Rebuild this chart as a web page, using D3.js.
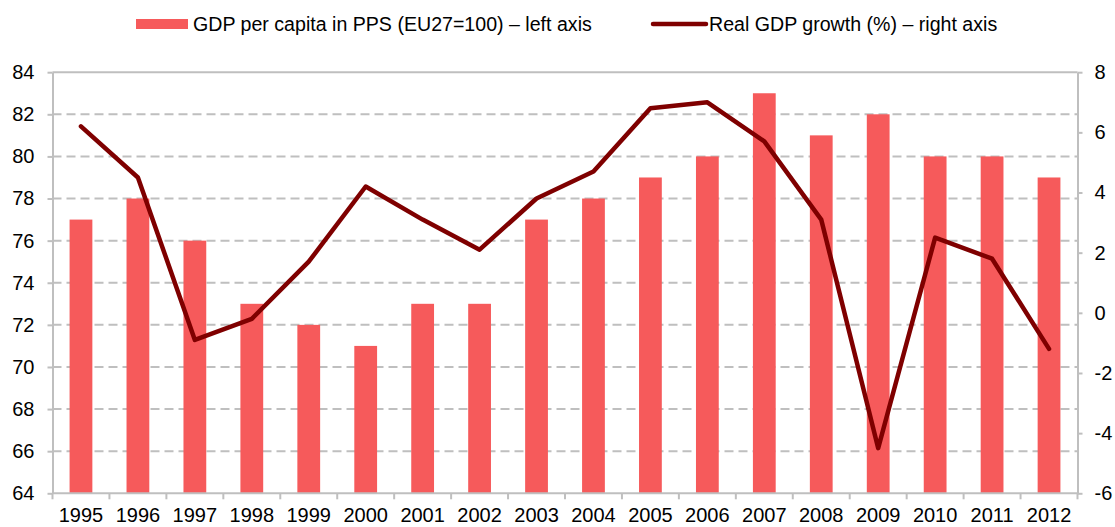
<!DOCTYPE html>
<html>
<head>
<meta charset="utf-8">
<script src="https://cdn.jsdelivr.net/npm/d3@7"></script>
<style>
  html, body { margin: 0; padding: 0; background: #fff; }
  svg { display: block; }
  text { font-family: "Liberation Sans", Arial, sans-serif; fill: #000; }
</style>
</head>
<body>
<svg id="chart" width="1115" height="527"></svg>
<script>
const years = ["1995","1996","1997","1998","1999","2000","2001","2002","2003","2004","2005","2006","2007","2008","2009","2010","2011","2012"];
const gdpPerCapita = [77,78,76,73,72,71,73,73,77,78,79,80,83,81,82,80,80,79];
const realGrowth = [6.2,4.5,-0.9,-0.2,1.7,4.2,3.1,2.1,3.8,4.7,6.8,7.0,5.7,3.1,-4.5,2.5,1.8,-1.2];
const leftTicks = [64,66,68,70,72,74,76,78,80,82,84];
const rightTicks = [-6,-4,-2,0,2,4,6,8];
const legendLabels = ["GDP per capita in PPS (EU27=100) – left axis", "Real GDP growth (%) – right axis"];

const svg = d3.select("#chart");
const x0 = 52.5, x1 = 1077.5, yTop = 72.2, yBot = 493.3;
const gridColor = "#BFBFBF";
const barColor = "#F65A5B";
const lineColor = "#7F0000";

const x = d3.scaleBand().domain(years).range([x0, x1]).paddingInner(0.6).paddingOuter(0.3);
const yL = d3.scaleLinear().domain([64, 84]).range([yBot, yTop]);
const yR = d3.scaleLinear().domain([-6, 8]).range([yBot, yTop]);

// gridlines
svg.append("g").selectAll("line").data(leftTicks.filter(d => d > 64)).join("line")
  .attr("x1", x0).attr("x2", x1)
  .attr("y1", d => yL(d)).attr("y2", d => yL(d))
  .attr("stroke", gridColor).attr("stroke-width", 2)
  .attr("stroke-dasharray", d => d === 84 ? null : "9,5");

// bars
svg.append("g").selectAll("rect").data(years).join("rect")
  .attr("x", d => x(d)).attr("width", x.bandwidth())
  .attr("y", (d, i) => yL(gdpPerCapita[i]))
  .attr("height", (d, i) => yBot - yL(gdpPerCapita[i]))
  .attr("fill", barColor);

// left axis
const leftAxis = d3.axisLeft(yL).tickValues(leftTicks).tickSize(5).tickPadding(13).tickSizeOuter(0);
const gL = svg.append("g").attr("transform", `translate(${x0},0)`).call(leftAxis);
gL.select(".domain").attr("stroke", gridColor).attr("stroke-width", 2);
gL.selectAll(".tick line").attr("stroke", gridColor).attr("stroke-width", 2);
gL.selectAll(".tick text").attr("font-size", 20).attr("fill", "#000").attr("font-family", "Liberation Sans, Arial, sans-serif");

// right axis
const rightAxis = d3.axisRight(yR).tickValues(rightTicks).tickSize(5).tickPadding(12).tickSizeOuter(0).tickFormat(d3.format("d"));
const gR = svg.append("g").attr("transform", `translate(${x1},0)`).call(rightAxis);
gR.select(".domain").attr("stroke", gridColor).attr("stroke-width", 2);
gR.selectAll(".tick line").attr("stroke", gridColor).attr("stroke-width", 2);
gR.selectAll(".tick text").attr("font-size", 20).attr("fill", "#000").attr("font-family", "Liberation Sans, Arial, sans-serif")
  .text(d => d < 0 ? "-" + Math.abs(d) : d);

// bottom axis
const gB = svg.append("g").attr("transform", `translate(0,${yBot})`);
gB.append("line").attr("x1", x0).attr("x2", x1).attr("y1", 0).attr("y2", 0)
  .attr("stroke", gridColor).attr("stroke-width", 2);
const edges = d3.range(years.length + 1).map(i => x0 + i * (x1 - x0) / years.length);
gB.selectAll("line.tk").data(edges).join("line").attr("class", "tk")
  .attr("x1", d => d).attr("x2", d => d).attr("y1", 0).attr("y2", 6)
  .attr("stroke", gridColor).attr("stroke-width", 2);
gB.selectAll("text").data(years).join("text")
  .attr("x", d => x(d) + x.bandwidth() / 2).attr("y", 29)
  .attr("text-anchor", "middle").attr("font-size", 20).text(d => d);

// line
const line = d3.line()
  .x((d, i) => x(years[i]) + x.bandwidth() / 2)
  .y(d => yR(d));
svg.append("path").datum(realGrowth)
  .attr("d", line).attr("fill", "none")
  .attr("stroke", lineColor).attr("stroke-width", 4.5)
  .attr("stroke-linejoin", "round").attr("stroke-linecap", "round");

// legend
const lg = svg.append("g");
lg.append("rect").attr("x", 136).attr("y", 19).attr("width", 52).attr("height", 10).attr("fill", barColor);
lg.append("text").attr("x", 193).attr("y", 31).attr("font-size", 19.6).text(legendLabels[0]);
lg.append("line").attr("x1", 653).attr("x2", 706).attr("y1", 24).attr("y2", 24)
  .attr("stroke", lineColor).attr("stroke-width", 4.5).attr("stroke-linecap", "round");
lg.append("text").attr("x", 709).attr("y", 31).attr("font-size", 19.6).text(legendLabels[1]);
</script>
</body>
</html>
